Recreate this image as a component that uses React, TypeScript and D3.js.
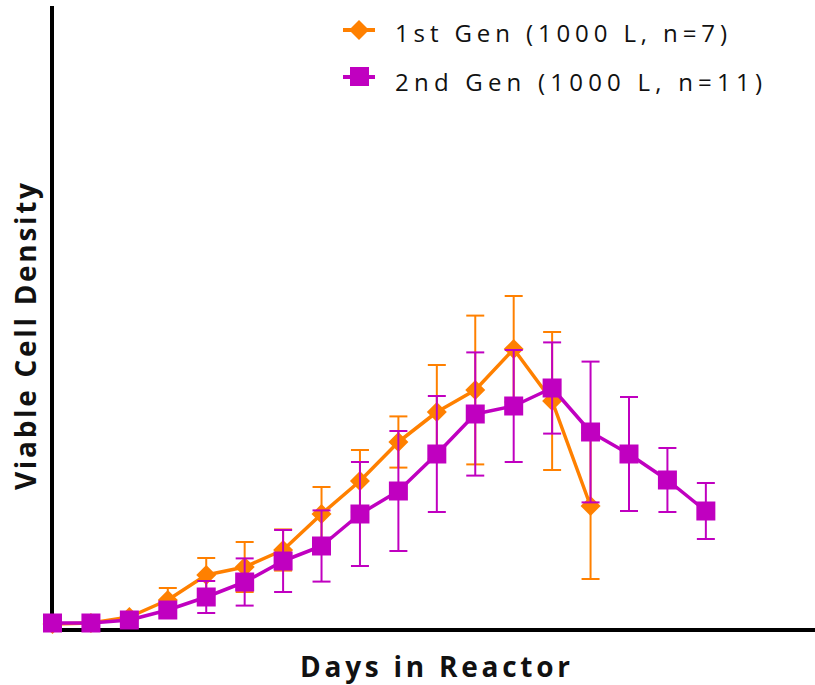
import React from "react";
import * as d3 from "d3";

// Days in reactor (categories)
const days1 = [0, 1, 2, 3, 4, 5, 6, 7, 8, 9, 10, 11, 12, 13, 14];
const days2 = [0, 1, 2, 3, 4, 5, 6, 7, 8, 9, 10, 11, 12, 13, 14, 15, 16, 17];

// 1st Gen (1000 L, n=7): mean and SD (arbitrary units)
const gen1Mean = [0.3, 0.35, 0.65, 1.5, 2.75, 3.15, 4.0, 5.8, 7.45, 9.4, 10.9, 12.0, 14.05, 11.45, 6.2];
const gen1SD = [0, 0, 0.15, 0.6, 0.85, 1.25, 1.03, 1.35, 1.55, 1.28, 2.35, 3.72, 2.65, 3.45, 3.65];

// 2nd Gen (1000 L, n=11)
const gen2Mean = [0.35, 0.35, 0.5, 1.0, 1.65, 2.4, 3.45, 4.2, 5.8, 6.95, 8.8, 10.8, 11.2, 12.1, 9.9, 8.8, 7.5, 5.95];
const gen2SD = [0, 0, 0, 0.25, 0.8, 1.18, 1.55, 1.78, 2.6, 3.0, 2.9, 3.08, 2.8, 2.28, 3.52, 2.85, 1.6, 1.4];

const legendLabels = ["1st Gen (1000 L, n=7)", "2nd Gen (1000 L, n=11)"];
const xTitle = "Days in Reactor";
const yTitle = "Viable Cell Density";

const ORANGE = "#FF8000";
const MAGENTA = "#C000C0";
const FONT = "'Open Sans', 'DejaVu Sans', sans-serif";

export default function App() {
  const W = 815;
  const H = 685;
  const x = d3.scaleLinear().domain([0, 19.84]).range([52.5, 815]);
  const y = d3.scaleLinear().domain([0, 31.2]).range([630, 6]);

  const line = d3
    .line<[number, number]>()
    .x((d) => x(d[0]))
    .y((d) => y(d[1]));

  const s1 = days1.map((d, i) => ({ d, m: gen1Mean[i], sd: gen1SD[i] }));
  const s2 = days2.map((d, i) => ({ d, m: gen2Mean[i], sd: gen2SD[i] }));

  const diamond = d3.symbol().type(d3.symbolSquare).size(200)();
  const square = d3.symbol().type(d3.symbolSquare).size(361)();
  const legendDiamond = d3.symbol().type(d3.symbolSquare).size(200)();

  const cap = 9;

  const errBars = (data: { d: number; m: number; sd: number }[], color: string) =>
    data
      .filter((p) => p.sd > 0)
      .map((p, i) => {
        const cx = x(p.d);
        const top = y(p.m + p.sd);
        const bot = y(p.m - p.sd);
        return (
          <g key={i} stroke={color} strokeWidth={2}>
            <line x1={cx} x2={cx} y1={top} y2={bot} />
            <line x1={cx - cap} x2={cx + cap} y1={top} y2={top} />
            <line x1={cx - cap} x2={cx + cap} y1={bot} y2={bot} />
          </g>
        );
      });

  return (
    <svg
      width={W}
      height={H}
      style={{ position: "absolute", left: 0, top: 0, display: "block", background: "#fff" }}
    >
      <rect width={W} height={H} fill="#fff" />
      {/* axes */}
      <line x1={52} x2={52} y1={y.range()[1]} y2={632} stroke="#000" strokeWidth={4} />
      <line x1={50} x2={x.range()[1]} y1={y(0)} y2={y(0)} stroke="#000" strokeWidth={4} />

      {/* 1st Gen */}
      <path
        d={line(s1.map((p) => [p.d, p.m]) as [number, number][]) || ""}
        fill="none"
        stroke={ORANGE}
        strokeWidth={3.5}
        strokeLinejoin="round"
      />
      {errBars(s1, ORANGE)}
      {s1.map((p, i) => (
        <path
          key={i}
          d={diamond || ""}
          transform={`translate(${x(p.d)},${y(p.m)}) rotate(45)`}
          fill={ORANGE}
        />
      ))}

      {/* 2nd Gen */}
      {errBars(s2, MAGENTA)}
      <path
        d={line(s2.map((p) => [p.d, p.m]) as [number, number][]) || ""}
        fill="none"
        stroke={MAGENTA}
        strokeWidth={3.5}
        strokeLinejoin="round"
      />
      {s2.map((p, i) => (
        <path key={i} d={square || ""} transform={`translate(${x(p.d)},${y(p.m)})`} fill={MAGENTA} />
      ))}

      {/* legend */}
      <line x1={343} x2={375} y1={30} y2={30} stroke={ORANGE} strokeWidth={4} />
      <path d={legendDiamond || ""} transform="translate(359,30) rotate(45)" fill={ORANGE} />
      <line x1={343} x2={375} y1={77} y2={77} stroke={MAGENTA} strokeWidth={4} />
      <path d={square || ""} transform="translate(359.5,76.5)" fill={MAGENTA} />
      <text
        x={395}
        y={42}
        fontFamily={FONT}
        fontSize={24}
        fill="#111"
        textLength={332}
        lengthAdjust="spacing"
      >
        {legendLabels[0]}
      </text>
      <text
        x={395}
        y={91}
        fontFamily={FONT}
        fontSize={24}
        fill="#111"
        textLength={367}
        lengthAdjust="spacing"
      >
        {legendLabels[1]}
      </text>

      {/* axis titles */}
      <text
        x={300}
        y={677}
        fontFamily={FONT}
        fontSize={28}
        fontWeight="bold"
        fill="#111"
        textLength={270}
        lengthAdjust="spacing"
      >
        {xTitle}
      </text>
      <text
        transform="translate(36,490) rotate(-90)"
        x={0}
        y={0}
        fontFamily={FONT}
        fontSize={28}
        fontWeight="bold"
        fill="#111"
        textLength={307}
        lengthAdjust="spacing"
      >
        {yTitle}
      </text>
    </svg>
  );
}
